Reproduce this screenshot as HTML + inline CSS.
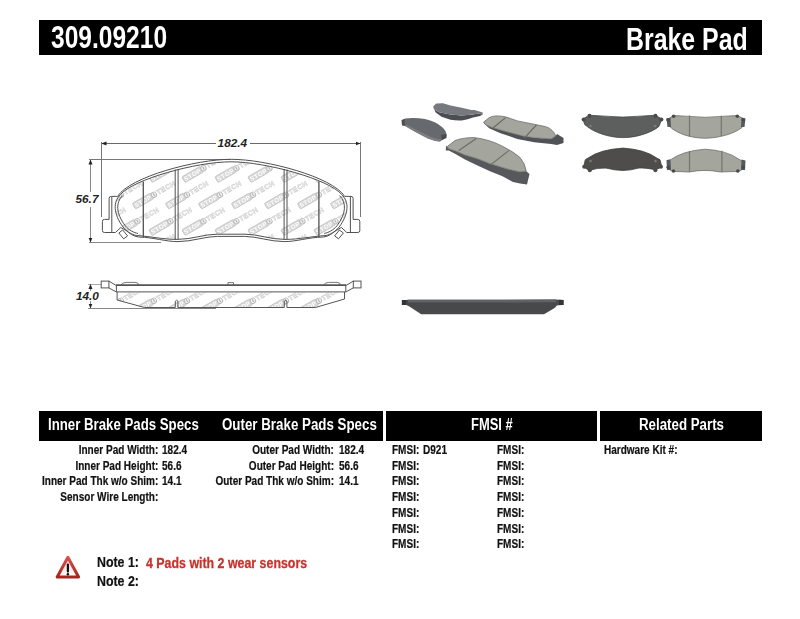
<!DOCTYPE html>
<html><head><meta charset="utf-8">
<style>
*{margin:0;padding:0;box-sizing:border-box}
html,body{width:800px;height:619px;background:#fff;overflow:hidden}
body{position:relative;font-family:"Liberation Sans",sans-serif;font-weight:bold;color:#111}
.b{position:absolute;background:#000}
.t{position:absolute;white-space:nowrap;line-height:1;transform-origin:0 0;-webkit-text-stroke:0.2px #111}
.r{position:absolute;white-space:nowrap;line-height:1;transform-origin:100% 0;text-align:right;-webkit-text-stroke:0.2px #111}
.w{color:#fff;-webkit-text-stroke:0}
.red{color:#c8332e;-webkit-text-stroke:0.3px #c8332e}
</style></head><body>
<svg width="800" height="619" viewBox="0 0 800 619" style="position:absolute;left:0;top:0">
<defs>
<g id="logo">
<rect x="-10.5" y="-3.3" width="21" height="6.6" rx="1.2" fill="#d8d8d8" stroke="#bdbdbd" stroke-width="0.7"/>
<text x="0" y="2.3" font-family="Liberation Sans" font-weight="bold" font-size="6.2" letter-spacing="0.5" fill="#fff" text-anchor="middle">STOP</text>
<circle cx="12.6" cy="0" r="2.7" fill="#f0f0f0" stroke="#b8b8b8" stroke-width="0.9"/>
<path d="M12.6 -1.6 L 12.6 1.6" stroke="#aaa" stroke-width="0.9"/>
<text x="16.2" y="2.4" font-family="Liberation Sans" font-size="7" letter-spacing="0.4" fill="#fff" stroke="#c8c8c8" stroke-width="0.5">TECH</text>
</g>
<pattern id="wm" patternUnits="userSpaceOnUse" x="209" y="201" width="33" height="53">
<use href="#logo" transform="translate(0,0) rotate(-30)"/>
<use href="#logo" transform="translate(33,0) rotate(-30)"/>
<use href="#logo" transform="translate(16.5,26.5) rotate(-30)"/>
<use href="#logo" transform="translate(0,53) rotate(-30)"/>
<use href="#logo" transform="translate(33,53) rotate(-30)"/>
<use href="#logo" transform="translate(-16.5,26.5) rotate(-30)"/>
<use href="#logo" transform="translate(49.5,26.5) rotate(-30)"/>
<use href="#logo" transform="translate(-33,0) rotate(-30)"/>
<use href="#logo" transform="translate(-33,53) rotate(-30)"/>
<use href="#logo" transform="translate(-16.5,-26.5) rotate(-30)"/>
<use href="#logo" transform="translate(16.5,-26.5) rotate(-30)"/>
<use href="#logo" transform="translate(16.5,79.5) rotate(-30)"/>
<use href="#logo" transform="translate(-16.5,79.5) rotate(-30)"/>
</pattern>
<clipPath id="fricClip"><path id="fricPath" d="M120.5 194.5 C 133 179.5, 196 161.8, 231.1 161.8 C 266.2 161.8, 329.2 179.5, 341.7 194.5 C 349.5 202, 348.7 214, 339.2 227 C 335 232, 330 234.5, 326 235.5 C 310 236.5, 300 239.4, 285 239.4 C 270 239.4, 258 234.2, 245 234.2 L 217.2 234.2 C 204 234.2, 192 239.4, 177.2 239.4 C 162 239.4, 152 236.5, 136.2 235.5 C 132 234.5, 127.2 232, 123 227 C 113.5 214, 112.7 202, 120.5 194.5 Z"/></clipPath>
<marker id="ah" viewBox="0 0 10 10" refX="10" refY="5" markerWidth="5" markerHeight="5" orient="auto-start-reverse" markerUnits="userSpaceOnUse"><path d="M0 1 L10 5 L0 9 Z" fill="#222"/></marker>
<filter id="soft" x="-5%" y="-5%" width="110%" height="110%"><feGaussianBlur stdDeviation="0.5"/></filter>
</defs>

<!-- ===== technical drawing: front view ===== -->
<g fill="none" stroke="#5a5a5a" stroke-width="1">
<!-- dimension lines -->
<line x1="101.5" y1="142" x2="101.5" y2="217" stroke="#777" stroke-width="1"/>
<line x1="360.5" y1="142" x2="360.5" y2="217" stroke="#777" stroke-width="1"/>
<line x1="101.5" y1="143.5" x2="216" y2="143.5" stroke="#6a6a6a" marker-start="url(#ah)"/>
<line x1="250" y1="143.5" x2="360.5" y2="143.5" stroke="#6a6a6a" marker-end="url(#ah)"/>
<line x1="89" y1="159.5" x2="231" y2="159.5" stroke="#777" stroke-width="1"/>
<line x1="89" y1="242.5" x2="161" y2="242.5" stroke="#888" stroke-width="1"/>
<line x1="90.5" y1="159.5" x2="90.5" y2="192" stroke="#888" marker-start="url(#ah)"/>
<line x1="90.5" y1="207" x2="90.5" y2="242.5" stroke="#888" marker-end="url(#ah)"/>
</g>
<!-- watermark inside friction -->
<g clip-path="url(#fricClip)"><rect x="100" y="150" width="270" height="100" fill="url(#wm)"/></g>
<g fill="none" stroke="#505050" stroke-width="1">
<!-- backing plate outer outline -->
<path d="M117.5 196.4 C 130 176.8, 196 159.3, 231.1 159.3 C 266.2 159.3, 332.2 176.8, 344.7 196.4 L 351 196.4 Q 353.1 196.4 353.1 198.5 L 353.1 219.4 L 357.8 219.4 Q 359.8 219.4 359.8 221.4 L 359.8 230.5 Q 359.8 232.5 357.8 232.5 L 346.8 232.5 L 341.4 227.5 L 336.1 230.5 C 333 233, 328 236.8, 323.5 237 C 307 237.5, 297 241.6, 284.2 241.6 C 270 241.6, 257 236.4, 244.7 236.4 L 217.5 236.4 C 205 236.4, 192 241.6, 178 241.6 C 165 241.6, 155 237.5, 138.7 237 C 134 236.8, 129 233, 126.1 230.5 L 120.8 227.5 L 115.4 232.5 L 104.4 232.5 Q 102.4 232.5 102.4 230.5 L 102.4 221.4 Q 102.4 219.4 104.4 219.4 L 109.1 219.4 L 109.1 198.5 Q 109.1 196.4 111.2 196.4 Z"/>
<!-- ear inner lines -->
<line x1="111.8" y1="197" x2="111.8" y2="232"/>
<line x1="350.4" y1="197" x2="350.4" y2="232"/>
<!-- friction outline -->
<use href="#fricPath"/>
<!-- inner C lines -->
<path d="M122.6 195.6 C 115.4 203, 116.2 213.5, 125 225.5 C 129 230.5, 134 232.6, 138 233.5"/>
<path d="M339.6 195.6 C 346.8 203, 346 213.5, 337.2 225.5 C 333.2 230.5, 328.2 232.6, 324.2 233.5"/>
<!-- slots -->
<line x1="143.3" y1="181.5" x2="143.3" y2="237.3" stroke-width="1.3"/>
<line x1="175.2" y1="169.5" x2="175.2" y2="239.5"/>
<line x1="178.1" y1="169" x2="178.1" y2="239.5"/>
<line x1="284.1" y1="169" x2="284.1" y2="239.5"/>
<line x1="287" y1="169.5" x2="287" y2="239.5"/>
<line x1="318.9" y1="181.5" x2="318.9" y2="237.3" stroke-width="1.3"/>
<!-- sensor clips -->
<path d="M118.8 233 L 123.7 238.8 L 127.6 235.9 L 122.7 230 Z"/>
<path d="M343.4 233 L 338.5 238.8 L 334.6 235.9 L 339.5 230 Z"/>
</g>

<!-- ===== side view ===== -->
<clipPath id="sideClip"><path d="M117.6 292.5 L 117.6 300 L 144.5 307 L 315.5 307 L 344 299 L 344 292.5 Z"/></clipPath>
<g clip-path="url(#sideClip)"><rect x="110" y="290" width="240" height="20" fill="url(#wm)"/></g>
<g fill="none" stroke="#555" stroke-width="1">
<line x1="88" y1="284.5" x2="101" y2="284.5" stroke="#aaa" stroke-width="1"/>
<line x1="88" y1="308.5" x2="216" y2="308.5" stroke="#888" stroke-width="1"/>
<line x1="90.5" y1="284" x2="90.5" y2="291" stroke="#888" marker-start="url(#ah)"/>
<line x1="90.5" y1="301" x2="90.5" y2="308.5" stroke="#888" marker-end="url(#ah)"/>
<rect x="101.2" y="281.1" width="7.7" height="6.8"/>
<path d="M108.9 281.1 L 116 285.4 M108.9 287.9 L 116 291.8 M116.4 285.4 L 116.4 291.8"/>
<rect x="353.3" y="281.1" width="7.7" height="6.8"/>
<path d="M353.3 281.1 L 346.2 285.4 M353.3 287.9 L 346.2 291.8 M345.8 285.4 L 345.8 291.8"/>
<path d="M116 285.1 L 346.2 285.1" stroke-width="1.7"/><path d="M116 291.9 L 346.2 291.9"/>
<path d="M120.9 285.4 Q 122 282.4 126 282.4 L 135 282.4 Q 138.9 282.4 138.9 285.4" stroke-width="0.8"/>
<path d="M323.5 285.4 Q 324.6 282.4 328.6 282.4 L 337 282.4 Q 340.5 282.4 340.5 285.4" stroke-width="0.8"/>
<path d="M228 285.4 L 228 282.6 L 233.5 282.6 L 233.5 285.4" stroke-width="0.8"/>
<path d="M117.1 292 L 117.1 300 L 144.5 307.5 L 175.3 307.5 L 175.3 301.2 Q 176.6 299.3 177.9 301.2 L 177.9 307.5 L 284.3 307.5 L 284.3 301.2 Q 285.6 299.3 286.9 301.2 L 286.9 307.5 L 315.5 307.5 L 344.5 299 L 344.5 292"/>
</g>
<!-- dimension text -->
<g font-family="Liberation Sans" font-weight="bold" font-style="italic" fill="#222">
<text x="0" y="0" font-size="10" transform="translate(217.6,146.8) scale(1.18,1)">182.4</text>
<text x="0" y="0" font-size="10" transform="translate(75.5,203) scale(1.18,1)">56.7</text>
<text x="0" y="0" font-size="10" transform="translate(75.9,300.3) scale(1.18,1)">14.0</text>
</g>
</svg>
<svg width="800" height="619" viewBox="0 0 800 619" style="position:absolute;left:0;top:0">
<g filter="url(#soft)">
<!-- Pad A: backing, left -->
<path d="M402 120.5 L 405 118.5 Q 415 117.5 425 119 Q 436 121.5 442 127 Q 446.5 131 446.5 135 L 446 137.5 L 440 141.5 Q 434 141 428 138.5 Q 415 132 406 126.5 L 402 125 Z" fill="#66696d"/>
<path d="M406 124.5 Q 418 131 430 136.5 Q 437 139.5 441 139.5 L 440 141.5 Q 434 141 428 138.5 Q 415 132 406 126.5 Z" fill="#7d8083"/>
<path d="M401.5 120 L 404.5 119 L 405 125.5 L 402 125.5 Z M441 135 L 446.5 134 L 446.5 138 L 442 140 Z" fill="#4a4d50"/>
<!-- Pad B: backing, top middle -->
<path d="M433.25 106.5 L 434 109.25 L 439.25 112.25 L 450.5 114.5 L 461.75 115.6 L 473 114.5 L 478 113.5 L 482.75 114.5 L 480 116 L 473 117.5 Q 468 119.5 461.75 120.5 Q 456 120.8 450.5 119.75 L 441.5 116.75 L 435.5 112.25 Z" fill="#4b4e52"/>
<path d="M433.25 106.25 L 436.25 103.4 L 443 103.2 L 450.5 105.5 L 461.75 107.75 L 471.5 110 L 474.5 110 L 482.75 112.5 L 482.75 114.5 L 478 113.5 L 473 114.5 L 461.75 115.6 L 450.5 114.5 L 439.25 112.25 L 434 109.25 Z" fill="#76797d"/>
<!-- Pad C: friction, right -->
<path d="M483.6 122.1 L 485.9 124.9 L 492.6 127.7 L 506.1 131.6 L 523 136.1 L 534.2 137.8 L 551.1 138.9 L 555.6 136.1 L 557 133.9 L 563.5 138 L 563.5 143 L 557 145 L 551.1 144 L 534.2 142.3 L 517.4 138.9 L 500.5 133.3 L 489.25 128.2 L 484.2 123.7 Z" fill="#505356"/>
<path d="M483.6 122.1 L 489.25 117.6 Q 492 116 496 115.9 Q 501 115.8 506.1 117 L 517.4 120.9 L 534.2 124.3 L 545.5 126.6 Q 550 128 552.2 130.5 Q 555 133 555.6 136.1 L 551.1 138.9 L 534.2 137.8 L 523 136.1 L 506.1 131.6 L 492.6 127.7 L 485.9 124.9 Z" fill="#a4a69d" stroke="#6e7069" stroke-width="0.8"/>
<path d="M505.6 117.6 L 492.6 128.2 M536.5 124.9 L 524.1 138.4" stroke="#676963" stroke-width="1.2" fill="none"/>
<!-- Pad D: friction, big lower -->
<path d="M446 145.5 L 448.75 148.75 L 456.25 151.25 L 465 155 L 477.5 158.75 L 490 163.75 L 502.5 167.5 Q 510 170 520 171.9 L 526.25 171.25 L 529.5 174 L 527 184.5 L 520 183.5 L 513 182 L 502.5 176.25 L 490 171.25 L 477.5 165.6 L 465 159.4 L 455 153.75 L 448.75 150.6 L 445.8 150.5 Z" fill="#56595c"/>
<path d="M447.5 146.25 L 455 140.6 Q 462 137.8 473.75 137.5 Q 490 139.5 502.5 146.25 Q 514 152 520 157.5 Q 525 163 526.25 171.25 L 520 171.9 Q 510 170 502.5 167.5 L 490 163.75 L 477.5 158.75 L 465 155 L 456.25 151.25 L 448.75 148.75 Z" fill="#a4a69d" stroke="#6e7069" stroke-width="0.8"/>
<path d="M476.25 138.5 L 458.75 150.6 M508.75 150.6 L 491.25 164.4" stroke="#6b6d67" stroke-width="1.2" fill="none"/>
<!-- Pad E: backing flat, top-left of right group -->
<path d="M583 119 L 589 115.2 L 595 115.6 Q 623 118.6 650 115.6 L 655.6 115.2 L 661.8 119 L 659 126.4 C 651 133, 636 137.6, 623 137.6 C 610 137.6, 595 133, 586.5 126 L 584.75 124.7 Z" fill="#5d5e5f" stroke="#444546" stroke-width="0.8"/>
<!-- Pad F: friction flat -->
<path d="M669.6 126.4 L 668.4 119 L 673.5 115.6 L 679 115.8 Q 705 118.8 732 115.8 L 737.6 115.6 L 743.8 119 L 742 127.5 C 734 134, 718 138.2, 705 138.2 C 692 138.2, 677 134, 669.6 126.4 Z" fill="#a4a69d" stroke="#6e7069" stroke-width="0.8"/>
<path d="M689.5 115.5 L 689.5 136.5 M721.3 115.8 L 721.3 136" stroke="#74766f" stroke-width="1.2" fill="none"/>
<path d="M666.5 118.5 L 670.5 117.5 L 671 127 L 667.5 127 Z M741.5 117.5 L 745.5 118.5 L 744.5 127 L 741 127 Z" fill="#55585b"/>
<!-- Pad G: backing flat bottom -->
<path d="M585.3 159.7 L 588.1 158 Q 600 149.5 623 148.1 Q 645 149.5 656.7 158 L 660 159.7 L 661.8 167 L 655.6 169.8 Q 645 167.5 638.7 168.1 Q 630 170.5 623 170.4 Q 615 170.5 606 168.1 Q 598 167.5 589.25 170.4 L 583.6 167 Z" fill="#4f4e4b" stroke="#3c3b39" stroke-width="0.8"/>
<!-- Pad H: friction flat bottom -->
<path d="M669 160.25 L 670.7 159.7 Q 682.5 151 705 149.2 Q 727 150.5 738.7 159.1 L 742.7 161.4 L 744.4 168.1 L 738.7 171.5 Q 730 171.5 720.75 172 Q 712 170.4 705 170.4 Q 697 170.4 689.25 172 Q 680 171.5 672.4 171.5 L 667.3 168.1 Z" fill="#a4a69d" stroke="#6e7069" stroke-width="0.8"/>
<path d="M689.5 151 L 689.5 172 M721.9 150.8 L 721.9 172" stroke="#74766f" stroke-width="1.2" fill="none"/>
<path d="M666.5 160 L 670.5 159.5 L 671 170 L 667 170 Z M741.5 159.5 L 745.5 160.5 L 745 170 L 741 170 Z" fill="#55585b"/>
<!-- ear knobs -->
<g fill="#4a4b4c">
<circle cx="589.5" cy="115.8" r="2"/><circle cx="583.6" cy="119.6" r="2"/><circle cx="655.5" cy="115.8" r="2"/><circle cx="661.4" cy="119.6" r="2"/>
<circle cx="584.2" cy="166.8" r="2"/><circle cx="589.8" cy="170.3" r="2"/><circle cx="661" cy="166.8" r="2"/><circle cx="655.4" cy="170.3" r="2"/>
<circle cx="673.6" cy="116.3" r="1.8"/><circle cx="668" cy="119.8" r="1.8"/><circle cx="737.3" cy="116.3" r="1.8"/><circle cx="743.2" cy="119.8" r="1.8"/>
<circle cx="668.2" cy="167.3" r="1.8"/><circle cx="673.5" cy="171" r="1.8"/><circle cx="743.2" cy="167.3" r="1.8"/><circle cx="737.8" cy="171" r="1.8"/>
</g>
<g fill="#7a7a78"><circle cx="590.5" cy="126" r="1.3"/><circle cx="655" cy="126" r="1.3"/><circle cx="590.5" cy="161" r="1.3"/><circle cx="655.5" cy="161" r="1.3"/></g>
<!-- side view photo -->
<path d="M401.9 300.1 L 406.3 300.1 L 408 299.8 L 556 299.6 L 559 299.7 L 563.5 299.9 L 563.5 305 L 558 305.2 L 556.5 305.8 L 555 307.8 L 544 314.3 L 421.2 314.3 L 409.4 306.6 L 406.3 305.1 L 401.9 305.1 Z" fill="#47494c"/>
<path d="M408 299.8 L 556 299.6 L 556 302.3 L 408 302.6 Z" fill="#606366"/>
<path d="M401.9 300.1 L 406.3 300.1 L 406.3 305.1 L 401.9 305.1 Z M559 299.7 L 563.5 299.9 L 563.5 305 L 559 305 Z" fill="#323437"/>
</g>
</svg>

<!-- title bar -->
<div class="b" style="left:39px;top:20px;width:723px;height:35px"></div>
<div class="t w" style="left:50.5px;top:22px;font-size:31px;transform:scaleX(0.792)">309.09210</div>
<div class="t w" style="left:626px;top:23.5px;font-size:31px;transform:scaleX(0.803)">Brake Pad</div>

<!-- table header bars -->
<div class="b" style="left:39px;top:410.5px;width:344px;height:30px"></div>
<div class="b" style="left:386px;top:410.5px;width:211px;height:30px"></div>
<div class="b" style="left:600px;top:410.5px;width:162px;height:30px"></div>
<div class="t w" style="left:48.2px;top:417px;font-size:16px;transform:scaleX(0.827)">Inner Brake Pads Specs</div>
<div class="t w" style="left:221.6px;top:417px;font-size:16px;transform:scaleX(0.833)">Outer Brake Pads Specs</div>
<div class="t w" style="left:471.2px;top:417px;font-size:16px;transform:scaleX(0.807)">FMSI #</div>
<div class="t w" style="left:638.8px;top:417px;font-size:16px;transform:scaleX(0.831)">Related Parts</div>
<!-- warning icon -->
<svg width="30" height="30" viewBox="0 0 30 30" style="position:absolute;left:53px;top:553.3px">
<defs><linearGradient id="tg" x1="0" y1="0" x2="0" y2="1"><stop offset="0" stop-color="#f4c9c6"/><stop offset="1" stop-color="#fff"/></linearGradient>
<linearGradient id="tr" x1="0" y1="0" x2="0" y2="1"><stop offset="0" stop-color="#d9534f"/><stop offset="1" stop-color="#a8241f"/></linearGradient></defs>
<path d="M14.9 4.3 L 25.6 24 L 4.2 24 Z" fill="url(#tg)" stroke="url(#tr)" stroke-width="3" stroke-linejoin="round"/>
<path d="M14.9 11.6 L 14.9 18.6" stroke="#111" stroke-width="2.2" stroke-linecap="round"/>
<circle cx="14.9" cy="21.2" r="1.2" fill="#111"/>
</svg>
<!-- table body -->
<div class="r" style="right:641.7px;top:444.0px;font-size:12px;transform:scaleX(0.835)">Inner Pad Width:</div>
<div class="r" style="right:641.7px;top:459.7px;font-size:12px;transform:scaleX(0.835)">Inner Pad Height:</div>
<div class="r" style="right:641.7px;top:475.4px;font-size:12px;transform:scaleX(0.835)">Inner Pad Thk w/o Shim:</div>
<div class="r" style="right:641.7px;top:491.1px;font-size:12px;transform:scaleX(0.835)">Sensor Wire Length:</div>
<div class="t" style="left:161.6px;top:444.0px;font-size:12px;transform:scaleX(0.835)">182.4</div>
<div class="t" style="left:161.6px;top:459.7px;font-size:12px;transform:scaleX(0.835)">56.6</div>
<div class="t" style="left:161.6px;top:475.4px;font-size:12px;transform:scaleX(0.835)">14.1</div>
<div class="r" style="right:466.1px;top:444.0px;font-size:12px;transform:scaleX(0.835)">Outer Pad Width:</div>
<div class="r" style="right:466.1px;top:459.7px;font-size:12px;transform:scaleX(0.835)">Outer Pad Height:</div>
<div class="r" style="right:466.1px;top:475.4px;font-size:12px;transform:scaleX(0.835)">Outer Pad Thk w/o Shim:</div>
<div class="t" style="left:338.6px;top:444.0px;font-size:12px;transform:scaleX(0.835)">182.4</div>
<div class="t" style="left:338.6px;top:459.7px;font-size:12px;transform:scaleX(0.835)">56.6</div>
<div class="t" style="left:338.6px;top:475.4px;font-size:12px;transform:scaleX(0.835)">14.1</div>
<div class="t" style="left:392.2px;top:444.0px;font-size:12px;transform:scaleX(0.835)">FMSI:</div>
<div class="t" style="left:496.5px;top:444.0px;font-size:12px;transform:scaleX(0.835)">FMSI:</div>
<div class="t" style="left:392.2px;top:459.7px;font-size:12px;transform:scaleX(0.835)">FMSI:</div>
<div class="t" style="left:496.5px;top:459.7px;font-size:12px;transform:scaleX(0.835)">FMSI:</div>
<div class="t" style="left:392.2px;top:475.4px;font-size:12px;transform:scaleX(0.835)">FMSI:</div>
<div class="t" style="left:496.5px;top:475.4px;font-size:12px;transform:scaleX(0.835)">FMSI:</div>
<div class="t" style="left:392.2px;top:491.1px;font-size:12px;transform:scaleX(0.835)">FMSI:</div>
<div class="t" style="left:496.5px;top:491.1px;font-size:12px;transform:scaleX(0.835)">FMSI:</div>
<div class="t" style="left:392.2px;top:506.8px;font-size:12px;transform:scaleX(0.835)">FMSI:</div>
<div class="t" style="left:496.5px;top:506.8px;font-size:12px;transform:scaleX(0.835)">FMSI:</div>
<div class="t" style="left:392.2px;top:522.5px;font-size:12px;transform:scaleX(0.835)">FMSI:</div>
<div class="t" style="left:496.5px;top:522.5px;font-size:12px;transform:scaleX(0.835)">FMSI:</div>
<div class="t" style="left:392.2px;top:538.2px;font-size:12px;transform:scaleX(0.835)">FMSI:</div>
<div class="t" style="left:496.5px;top:538.2px;font-size:12px;transform:scaleX(0.835)">FMSI:</div>
<div class="t" style="left:423.4px;top:444.0px;font-size:12px;transform:scaleX(0.835)">D921</div>
<div class="t" style="left:604.4px;top:444.0px;font-size:12px;transform:scaleX(0.835)">Hardware Kit #:</div>
<div class="t" style="left:97px;top:554px;font-size:15px;transform:scaleX(0.825)">Note 1:</div>
<div class="t" style="left:97px;top:573px;font-size:15px;transform:scaleX(0.825)">Note 2:</div>
<div class="t red" style="left:146px;top:554.8px;font-size:15px;transform:scaleX(0.826)">4 Pads with 2 wear sensors</div>
</body></html>
